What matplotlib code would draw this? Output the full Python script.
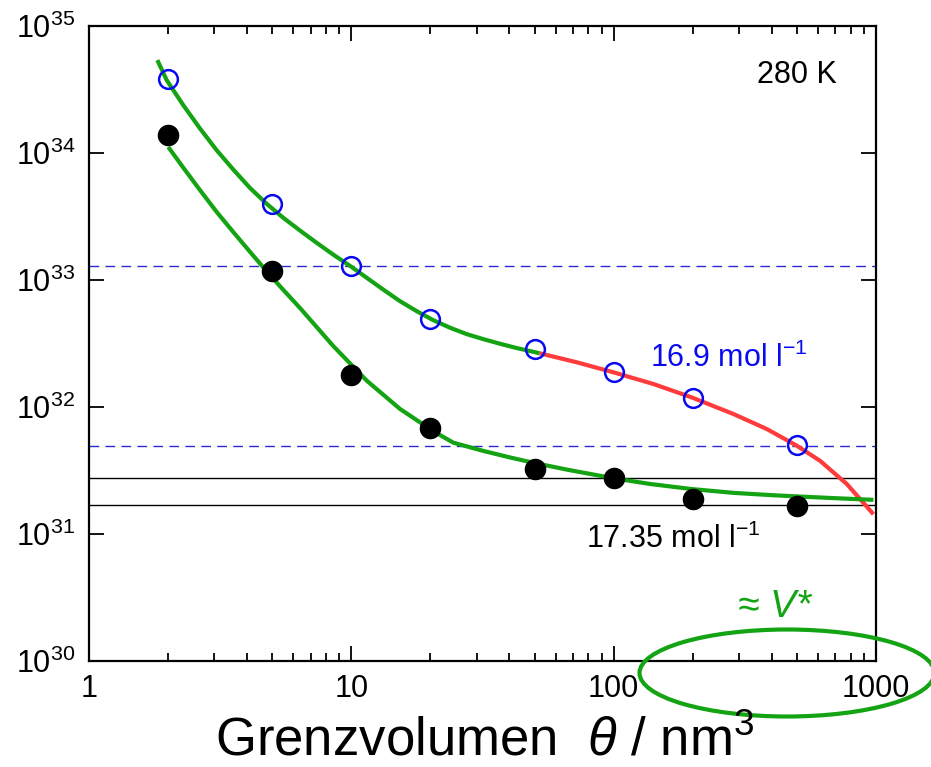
import numpy as np
import matplotlib.pyplot as plt
from matplotlib.patches import Ellipse
from matplotlib.ticker import NullLocator, LogLocator

plt.rcParams['font.family'] = ['Liberation Sans', 'DejaVu Sans']
plt.rcParams['mathtext.fontset'] = 'custom'
plt.rcParams['mathtext.rm'] = 'Liberation Sans'
plt.rcParams['mathtext.it'] = 'Liberation Sans:italic'

# measured points
theta = [2, 5, 10, 20, 50, 100, 200, 500]
open_pts = [3.8e34, 4.0e33, 1.29e33, 4.9e32, 2.87e32, 1.88e32, 1.19e32, 5.0e31]
filled_pts = [1.40e34, 1.19e33, 1.79e32, 6.9e31, 3.25e31, 2.79e31, 1.88e31, 1.67e31]

# fitted curves (x, log10 y)
upper_x = [1.822, 1.978, 2.288, 2.650, 3.068, 3.549, 4.110, 4.760, 5.506, 6.374, 7.382, 8.540,
           10.0, 11.5, 13.24, 15.3, 17.76, 20.5, 23.78, 27.5, 31.87, 37.0, 42.7, 52.2]
upper_logy = [34.732, 34.574, 34.377, 34.193, 34.022, 33.870, 33.725, 33.600, 33.490, 33.390,
              33.293, 33.200, 33.105, 33.015, 32.925, 32.835, 32.755, 32.685, 32.625, 32.575,
              32.535, 32.498, 32.465, 32.424]
red_x = [52.2, 72.3, 99.8, 141.7, 198, 285.9, 383.7, 499, 612, 774, 977]
red_logy = [32.424, 32.353, 32.274, 32.182, 32.077, 31.946, 31.827, 31.696, 31.577, 31.394, 31.157]
lower_x = [2.005, 2.288, 2.650, 3.068, 3.549, 4.110, 4.760, 5.43, 6.374, 8.54, 11.45,
           15.34, 20.54, 24.48, 31.87, 40.0, 49.4, 66.3, 99.8, 137.6, 198, 285.9, 400, 499, 700, 977]
lower_logy = [34.048, 33.885, 33.708, 33.536, 33.378, 33.222, 33.068, 32.936, 32.780, 32.480, 32.208,
              31.985, 31.810, 31.720, 31.655, 31.605, 31.562, 31.508, 31.440, 31.395, 31.355, 31.325,
              31.307, 31.297, 31.283, 31.270]

# reference levels
dashed_levels = [1.28e33, 4.97e31]
solid_levels = [2.79e31, 1.70e31]

xticks = [1, 10, 100, 1000]
xticklabels = ['1', '10', '100', '1000']

green = '#13a313'
fig = plt.figure(figsize=(9.31, 7.67), dpi=100)
ax = fig.add_axes([0.0956, 0.138, 0.8454, 0.828])
ax.set_xscale('log')
ax.set_yscale('log')
ax.set_xlim(1, 1000)
ax.set_ylim(1e30, 1e35)

for lv in dashed_levels:
    ax.axhline(lv, color='#2a2ad0', lw=1.0, ls=(0, (7, 4.5)), zorder=1)
for lv in solid_levels:
    ax.axhline(lv, color='black', lw=1.0, zorder=1)

ax.plot(upper_x, 10.0 ** np.array(upper_logy), color=green, lw=3, solid_capstyle='butt',
        solid_joinstyle='round', zorder=3)
ax.plot(red_x, 10.0 ** np.array(red_logy), color='#ff3b3b', lw=3, solid_capstyle='butt',
        solid_joinstyle='round', zorder=3)
ax.plot(lower_x, 10.0 ** np.array(lower_logy), color=green, lw=3, solid_capstyle='butt',
        solid_joinstyle='round', zorder=3)

ax.plot(theta, open_pts, 'o', ms=13.5, mfc='none', mec='#0a0af0', mew=1.8, zorder=4)
ax.plot(theta, filled_pts, 'o', ms=14.5, color='black', zorder=4)

ax.set_xticks(xticks)
ax.set_xticklabels(xticklabels)
ax.yaxis.set_major_locator(LogLocator(base=10, numticks=10))
ax.yaxis.set_minor_locator(NullLocator())
ax.tick_params(which='both', direction='in', top=True, right=True, width=1.3)
ax.tick_params(which='major', length=11, labelsize=22)
ax.tick_params(which='minor', length=6)
ax.tick_params(axis='x', pad=9)
ax.tick_params(axis='y', pad=10)
for s in ax.spines.values():
    s.set_linewidth(1.6)

ax.text(0.90, 0.923, '280 K', transform=ax.transAxes, fontsize=22, ha='center', va='center')
ax.text(0.713, 0.463, r'16.9 mol l$^{-1}$', transform=ax.transAxes, fontsize=22, color='#0a0af0')
ax.text(0.631, 0.178, r'17.35 mol l$^{-1}$', transform=ax.transAxes, fontsize=22, color='black')

fig.text(215 / 931, 1 - 756 / 767, r'Grenzvolumen  $\theta$ / nm$^3$', fontsize=38, ha='left', va='baseline')
fig.text(738 / 931, 1 - 617 / 767, '≈ V*', fontsize=28, color=green, style='italic', ha='left', va='baseline')
ell = Ellipse((787 / 931, 1 - 673 / 767), 295 / 931, 87 / 767, transform=fig.transFigure,
              fill=False, ec=green, lw=3, clip_on=False)
fig.patches.append(ell)

fig.savefig('out.png', dpi=100, facecolor='white')
